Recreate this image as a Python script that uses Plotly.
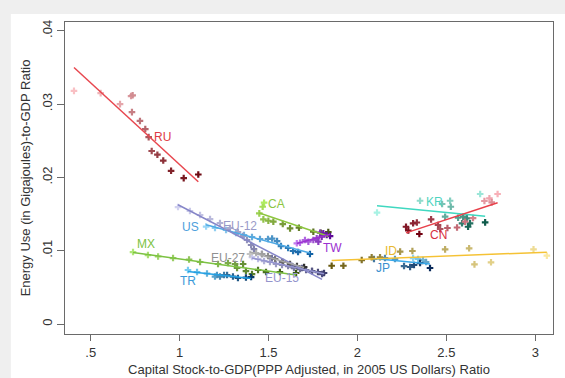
import numpy as np
import plotly.graph_objects as go

# ---------------- data ----------------
series_names = ["RU", "CA", "TW", "US", "EU-12", "EU-15", "EU-27", "MX", "TR", "JP", "ID", "KR", "CN"]

ru_x = [0.406, 0.556, 0.665, 0.727, 0.736, 0.732, 0.777, 0.807, 0.826, 0.843, 0.875, 0.908, 0.952, 1.023, 1.105]
ru_y = [0.0318, 0.0315, 0.0300, 0.0311, 0.0312, 0.0289, 0.0277, 0.0266, 0.0255, 0.0236, 0.0231, 0.0223, 0.0209, 0.0199, 0.0204]

ca_x = [1.475, 1.467, 1.448, 1.471, 1.499, 1.527, 1.580, 1.621, 1.671, 1.752, 1.794, 1.836]
ca_y = [0.01655, 0.01600, 0.01510, 0.01428, 0.01409, 0.01396, 0.01364, 0.01305, 0.01314, 0.01259, 0.01245, 0.01255]

tw_x = [1.659, 1.677, 1.705, 1.724, 1.752, 1.771, 1.780, 1.790, 1.799, 1.808, 1.827, 1.846]
tw_y = [0.01101, 0.01109, 0.01146, 0.01123, 0.01146, 0.01169, 0.01123, 0.01246, 0.01191, 0.01237, 0.01214, 0.01200]

us_x = [1.149, 1.199, 1.261, 1.317, 1.362, 1.407, 1.452, 1.497, 1.520, 1.548, 1.570, 1.610, 1.638, 1.666, 1.733]
us_y = [0.01330, 0.01310, 0.01283, 0.01241, 0.01214, 0.01187, 0.01160, 0.01160, 0.01166, 0.01132, 0.01064, 0.01037, 0.00996, 0.00982, 0.00955]

eu12_x = [0.991, 1.058, 1.115, 1.171, 1.227, 1.283, 1.328, 1.357, 1.379, 1.402, 1.418, 1.463, 1.519, 1.576, 1.632, 1.688, 1.744, 1.801]
eu12_y = [0.01596, 0.01542, 0.01487, 0.01432, 0.01378, 0.01310, 0.01255, 0.01201, 0.01146, 0.01078, 0.01023, 0.00955, 0.00900, 0.00846, 0.00791, 0.00764, 0.00723, 0.00682]

eu15_x = [1.407, 1.441, 1.475, 1.508, 1.542, 1.576, 1.610, 1.643, 1.677, 1.711, 1.745, 1.778, 1.812]
eu15_y = [0.00914, 0.00887, 0.00859, 0.00846, 0.00819, 0.00805, 0.00791, 0.00764, 0.00750, 0.00737, 0.00723, 0.00709, 0.00696]

eu27_x = [1.396, 1.430, 1.463, 1.497, 1.537, 1.582, 1.621, 1.660, 1.700]
eu27_y = [0.00955, 0.00969, 0.00955, 0.00928, 0.00887, 0.00846, 0.00819, 0.00791, 0.00778]

mx_x = [0.738, 0.822, 0.879, 0.963, 1.053, 1.115, 1.216, 1.272, 1.312, 1.323, 1.357, 1.373, 1.407, 1.441, 1.486, 1.564, 1.655]
mx_y = [0.00982, 0.00941, 0.00921, 0.00900, 0.00880, 0.00846, 0.00819, 0.00832, 0.00819, 0.00764, 0.00819, 0.00723, 0.00682, 0.00737, 0.00709, 0.00709, 0.00696]

tr_x = [1.047, 1.098, 1.154, 1.199, 1.210, 1.227, 1.250, 1.267, 1.300, 1.328, 1.373, 1.402]
tr_y = [0.00737, 0.00709, 0.00689, 0.00648, 0.00668, 0.00648, 0.00668, 0.00668, 0.00648, 0.00628, 0.00634, 0.00641]

jp_x = [2.313, 2.341, 2.369, 2.386, 2.211, 2.155, 2.093, 2.262, 2.296, 2.318, 2.352, 2.408]
jp_y = [0.00900, 0.00887, 0.00873, 0.00846, 0.00887, 0.00900, 0.00887, 0.00791, 0.00778, 0.00805, 0.00832, 0.00764]

id_x = [3.065, 2.990, 2.751, 2.658, 2.628, 2.493, 2.309, 2.240, 2.127, 2.080, 2.024, 1.921, 1.855]
id_y = [0.00932, 0.01019, 0.00842, 0.00814, 0.01033, 0.01019, 0.00996, 0.00987, 0.00910, 0.00910, 0.00873, 0.00795, 0.00795]

kr_x = [2.110, 2.690, 2.352, 2.521, 2.476, 2.525, 2.493, 2.566, 2.594, 2.616, 2.588, 2.633, 2.622, 2.718]
kr_y = [0.01521, 0.01774, 0.01682, 0.01682, 0.01637, 0.01600, 0.01464, 0.01450, 0.01464, 0.01442, 0.01374, 0.01374, 0.01327, 0.01387]

cn_x = [2.788, 2.742, 2.714, 2.755, 2.650, 2.605, 2.560, 2.506, 2.465, 2.453, 2.414, 2.334, 2.313, 2.273, 2.286, 2.348]
cn_y = [0.01774, 0.01715, 0.01678, 0.01660, 0.01446, 0.01396, 0.01317, 0.01310, 0.01296, 0.01351, 0.01428, 0.01385, 0.01374, 0.01327, 0.01276, 0.01228]

x_tick_vals = [0.5, 1, 1.5, 2, 2.5, 3]
x_tick_text = [".5", "1", "1.5", "2", "2.5", "3"]
y_tick_vals = [0, 0.01, 0.02, 0.03, 0.04]
y_tick_text = ["0", ".01", ".02", ".03", ".04"]

x_title = "Capital Stock-to-GDP(PPP Adjusted, in 2005 US Dollars) Ratio"
y_title = "Energy Use (in Gigajoules)-to-GDP Ratio"

values = {
    "RU": (ru_x, ru_y), "CA": (ca_x, ca_y), "TW": (tw_x, tw_y), "US": (us_x, us_y),
    "EU-12": (eu12_x, eu12_y), "EU-15": (eu15_x, eu15_y), "EU-27": (eu27_x, eu27_y),
    "MX": (mx_x, mx_y), "TR": (tr_x, tr_y), "JP": (jp_x, jp_y), "ID": (id_x, id_y),
    "KR": (kr_x, kr_y), "CN": (cn_x, cn_y),
}

# ---------------- styles ----------------
style = {
    "RU":    dict(line="#e8474f", text="#e03a44", light="#f9c0c4", dark="#6e0a12", pos=(0.903, 0.0255)),
    "CA":    dict(line="#8dc63f", text="#8dc63f", light="#b0ec60", dark="#4a5818", pos=(1.546, 0.01637)),
    "TW":    dict(line="#9b30d0", text="#9b30d0", light="#c27af0", dark="#5e0a98", pos=(1.859, 0.01033)),
    "US":    dict(line="#4da8e4", text="#4da0dc", light="#9ad6f6", dark="#1262a4", pos=(1.062, 0.01327)),
    "EU-12": dict(line="#8686c8", text="#9a9ac8", light="#d2d2f0", dark="#4c4c80", pos=(1.340, 0.01337)),
    "EU-15": dict(line="#9494d0", text="#9494cc", light="#c8c8ec", dark="#40406e", pos=(1.574, 0.00623)),
    "EU-27": dict(line="#a8a8a8", text="#909090", light="#c4c4c4", dark="#303030", pos=(1.274, 0.00905)),
    "MX":    dict(line="#7cc242", text="#7cc242", light="#b0e878", dark="#3a5a10", pos=(0.809, 0.01087)),
    "TR":    dict(line="#22a0e4", text="#3a9ad9", light="#78ccf2", dark="#0a3a6a", pos=(1.049, 0.00591)),
    "JP":    dict(line="#3aa8e8", text="#3a90d0", light="#8ad6f4", dark="#0a2a5a", pos=(2.146, 0.00760)),
    "ID":    dict(line="#f5c234", text="#e8b830", light="#fae8a0", dark="#6a5a10", pos=(2.187, 0.00996)),
    "KR":    dict(line="#40d8c0", text="#50d4c0", light="#a8f2e4", dark="#0e5a4a", pos=(2.433, 0.01669)),
    "CN":    dict(line="#e8404a", text="#d83040", light="#f8b0b8", dark="#700010", pos=(2.455, 0.01214)),
}


def hex2rgb(h):
    h = h.lstrip("#")
    return [int(h[i:i + 2], 16) for i in (0, 2, 4)]


def ramp(c0, c1, n):
    a, b = np.array(hex2rgb(c0)), np.array(hex2rgb(c1))
    out = []
    for t in np.linspace(0, 1, n):
        r, g, bb = (a + (b - a) * t).round().astype(int)
        out.append(f"rgb({r},{g},{bb})")
    return out


fig = go.Figure()

# markers
for name in series_names:
    xs, ys = values[name]
    st = style[name]
    fig.add_trace(go.Scatter(
        x=xs, y=ys, mode="markers", name=name, showlegend=False, hoverinfo="skip",
        marker=dict(symbol="cross", size=5.5, color=ramp(st["light"], st["dark"], len(xs)),
                    line=dict(width=0)),
    ))

# linear fit lines
for name in series_names:
    xs, ys = values[name]
    st = style[name]
    k, c = np.polyfit(xs, ys, 1)
    fx = np.array([min(xs), max(xs)])
    fig.add_trace(go.Scatter(
        x=fx, y=k * fx + c, mode="lines", showlegend=False, hoverinfo="skip",
        line=dict(color=st["line"], width=1.5),
    ))

# series labels
for name in series_names:
    st = style[name]
    fig.add_annotation(x=st["pos"][0], y=st["pos"][1], text=name, showarrow=False,
                       font=dict(family="Liberation Sans, Arial, sans-serif", size=12, color=st["text"]),
                       xanchor="center", yanchor="middle")

font_main = dict(family="Liberation Sans, Arial, sans-serif", size=13, color="#333333")

fig.update_layout(
    width=565, height=378,
    margin=dict(l=65, r=12, t=22, b=44),
    paper_bgcolor="#efefef",
    plot_bgcolor="white",
    font=font_main,
    shapes=[dict(type="rect", xref="paper", yref="paper", x0=-0.111, x1=1.1, y0=-0.3, y1=1.0256,
                 fillcolor="white", line=dict(width=0), layer="below")],
    xaxis=dict(range=[0.3555, 3.0996], tickvals=x_tick_vals, ticktext=x_tick_text,
               showgrid=False, zeroline=False, showline=True, mirror=True, automargin=False,
               linecolor="#6a6a6a", linewidth=1, ticks="outside", ticklen=6, tickcolor="#6a6a6a",
               tickfont=font_main, title=dict(text=x_title, font=font_main, standoff=6)),
    yaxis=dict(range=[-0.00136, 0.0412], tickvals=y_tick_vals, ticktext=y_tick_text,
               tickangle=-90, showgrid=False, zeroline=False, showline=True, mirror=True, automargin=False,
               linecolor="#6a6a6a", linewidth=1, ticks="outside", ticklen=7, tickcolor="#6a6a6a",
               tickfont=font_main, title=dict(text=y_title, font=font_main, standoff=6)),
)

fig.write_html("out.html", config={"displayModeBar": False},
               post_script="document.body.style.margin='0';document.body.style.background='#efefef';")
